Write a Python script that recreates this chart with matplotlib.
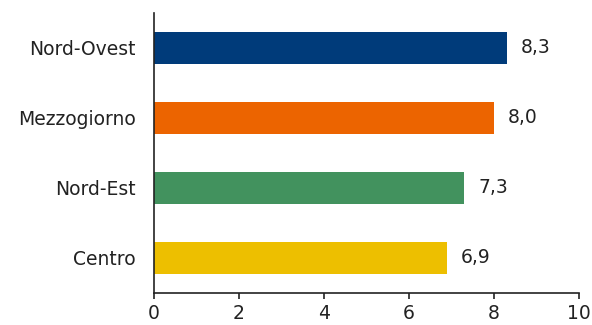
import matplotlib.pyplot as plt

# regions and values
regions = ["Centro", "Nord-Est", "Mezzogiorno", "Nord-Ovest"]
values = [6.9, 7.3, 8.0, 8.3]
colors = ["#EDBF00", "#42925E", "#EC6400", "#003B7A"]

plt.rcParams["font.family"] = "DejaVu Sans"
plt.rcParams["font.size"] = 13.5

fig = plt.figure(figsize=(5.92, 3.25), dpi=100)
ax = fig.add_axes([0.26, 0.0985, 0.718, 0.862])

ypos = range(len(regions))
ax.barh(ypos, values, height=0.45, color=colors)

for y, v in zip(ypos, values):
    ax.annotate(f"{v:.1f}".replace(".", ","), xy=(v, y), xytext=(10, 0),
                textcoords="offset points", va="center", ha="left",
                color="#222222")

ax.set_yticks(list(ypos))
ax.set_yticklabels(regions, color="#222222")
ax.set_xlim(0, 10)
ax.set_ylim(-0.5, 3.5)
ax.set_xticks(range(0, 11, 2))

for s in ["top", "right"]:
    ax.spines[s].set_visible(False)
for s in ["left", "bottom"]:
    ax.spines[s].set_linewidth(1.2)
    ax.spines[s].set_color("#222222")

ax.tick_params(axis="y", length=0, pad=13)
ax.tick_params(axis="x", length=4, width=1.2, color="#222222", labelcolor="#222222", pad=4)

fig.savefig("out.png", dpi=100)
